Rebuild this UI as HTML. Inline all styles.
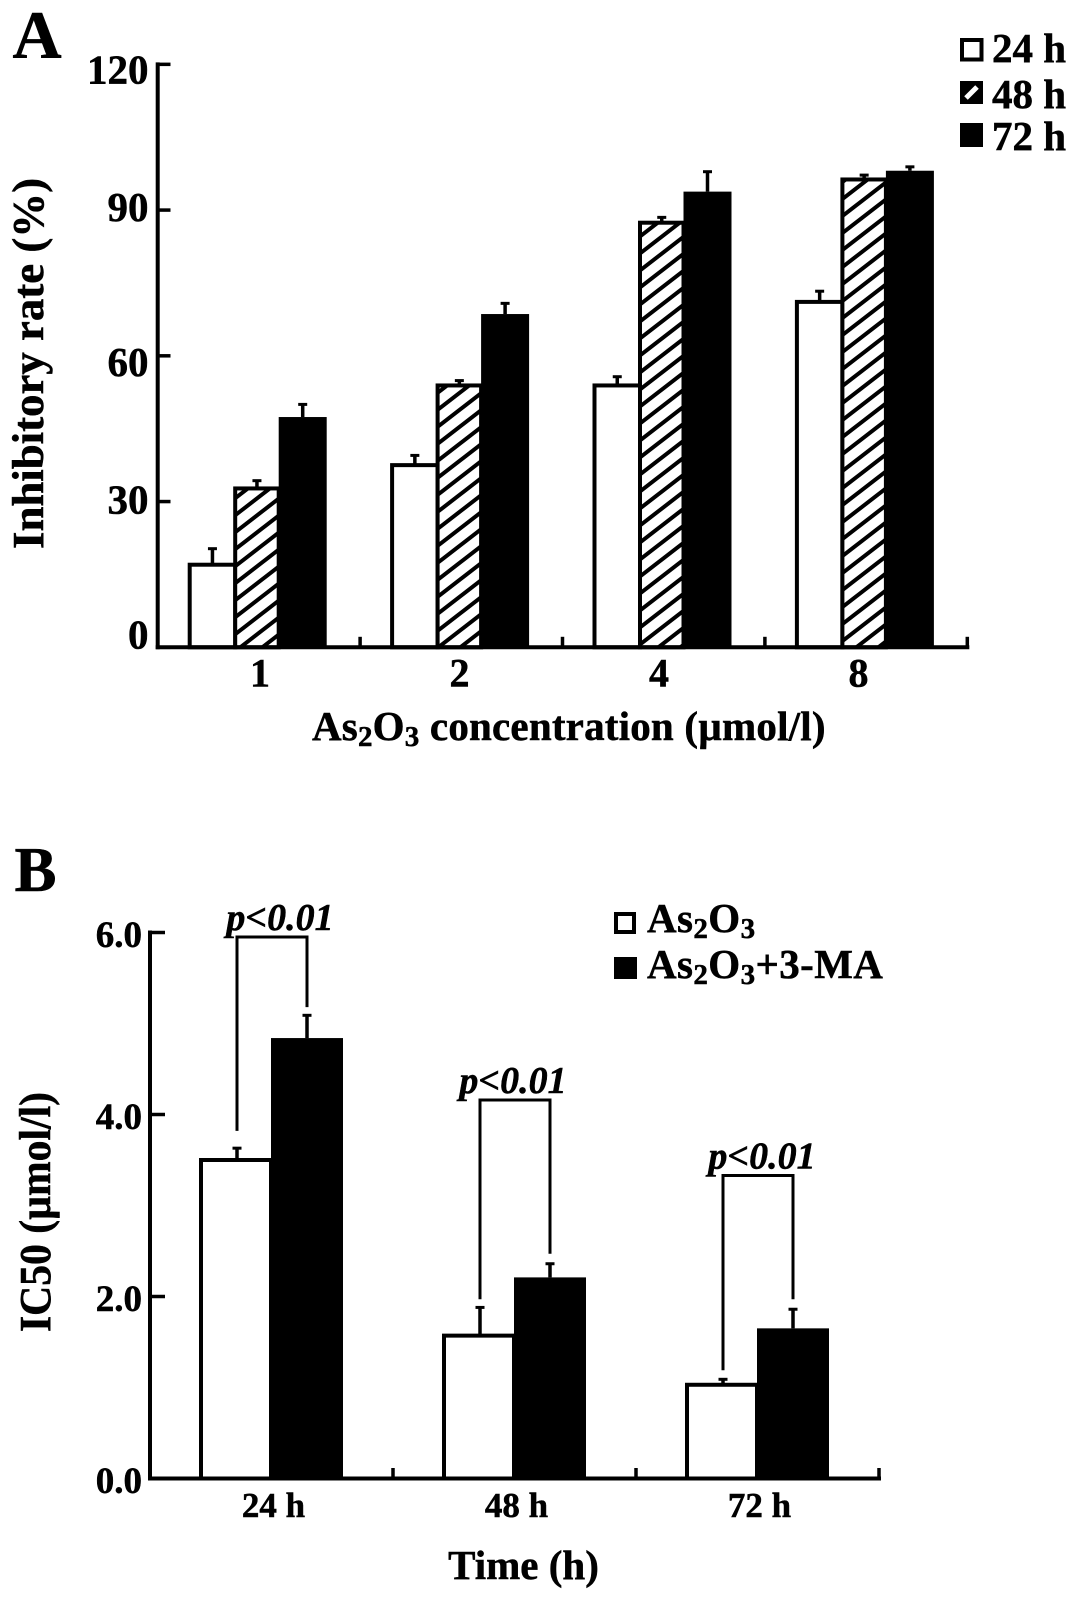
<!DOCTYPE html>
<html lang="en">
<head>
<meta charset="utf-8">
<title>As2O3 inhibitory rate and IC50</title>
<style>
html,body{margin:0;padding:0;background:#fff;}
svg{display:block;}
text{font-family:"Liberation Serif",serif;font-weight:bold;fill:#000;stroke:#000;stroke-width:0.5px;}
</style>
</head>
<body>
<svg id="fig" width="1087" height="1618" viewBox="0 0 1087 1618" xmlns="http://www.w3.org/2000/svg">
<defs>
<pattern id="hatch" patternUnits="userSpaceOnUse" width="22" height="17">
<rect width="22" height="17" fill="#fff"/>
<path d="M-11 25.5L33 -8.5M-11 8.5L11 -8.5M11 25.5L33 8.5" stroke="#000" stroke-width="4" fill="none"/>
</pattern>
</defs>
<text x="12.5" y="58" font-size="68">A</text>
<text x="14.5" y="891" font-size="63">B</text>

<g>
<rect x="962" y="40" width="19.5" height="19.5" fill="#fff" stroke="#000" stroke-width="4"/>
<text x="992" y="62" font-size="41">24 h</text>
<rect x="960" y="81" width="23" height="23" fill="#000"/>
<path d="M966 98L977 87" stroke="#fff" stroke-width="5" fill="none"/>
<text x="992" y="108" font-size="41">48 h</text>
<rect x="960" y="123" width="23" height="24" fill="#000"/>
<text x="992" y="150" font-size="41">72 h</text>
</g>

<g>
<rect x="616" y="914" width="18" height="18" fill="#fff" stroke="#000" stroke-width="4"/>
<text x="647" y="932" font-size="41" letter-spacing="0.4">As<tspan font-size="29" dy="6">2</tspan><tspan dy="-6">O</tspan><tspan font-size="29" dy="6">3</tspan></text>
<rect x="614" y="957" width="23" height="22" fill="#000"/>
<text x="647" y="978" font-size="41" letter-spacing="0.4">As<tspan font-size="29" dy="6">2</tspan><tspan dy="-6">O</tspan><tspan font-size="29" dy="6">3</tspan><tspan dy="-6">+3-MA</tspan></text>
</g>

<text x="312" y="740" font-size="41" letter-spacing="0.2">As<tspan font-size="29" dy="6">2</tspan><tspan dy="-6">O</tspan><tspan font-size="29" dy="6">3</tspan><tspan dy="-6"> concentration (µmol/l)</tspan></text>
<text transform="translate(43,549) rotate(-90)" font-size="44" textLength="371" lengthAdjust="spacingAndGlyphs">Inhibitory rate (%)</text>
<text x="523.5" y="1579" font-size="41" text-anchor="middle">Time (h)</text>
<text transform="translate(50,1332) rotate(-90)" font-size="44" textLength="240" lengthAdjust="spacingAndGlyphs">IC50 (µmol/l)</text>
</svg>

<script>
// Panel A data
const concentrations = ["1", "2", "4", "8"];
const rate24h = [17, 37.5, 53.9, 71.1];
const rate48h = [32.7, 53.9, 87.4, 96.3];
const rate72h = [47.4, 68.6, 93.8, 98.1];
const rate24hErrTop = [20.3, 39.5, 55.7, 73.3];
const rate48hErrTop = [34.3, 54.9, 88.5, 97.2];
const rate72hErrTop = [50, 70.8, 97.9, 98.9];
const rateTicks = [0, 30, 60, 90, 120];

// Panel B data
const times = ["24 h", "48 h", "72 h"];
const icAs2O3 = [3.5, 1.57, 1.03];
const icCombo = [4.84, 2.21, 1.65];
const icAs2O3ErrTop = [3.63, 1.88, 1.09];
const icComboErrTop = [5.09, 2.36, 1.86];
const icTicks = ["0.0", "2.0", "4.0", "6.0"];
const pLabels = ["p<0.01", "p<0.01", "p<0.01"];
const bracketTop = [5.95, 4.16, 3.33];
const bracketLeftEnd = [3.82, 1.97, 1.19];
const bracketRightEnd = [5.18, 2.47, 1.97];

const svg = document.getElementById('fig');
const NS = 'http://www.w3.org/2000/svg';
function mk(tag, attrs, parent) {
  const el = document.createElementNS(NS, tag);
  for (const k in attrs) el.setAttribute(k, attrs[k]);
  (parent || svg).appendChild(el);
  return el;
}
function line(x1, y1, x2, y2, w, parent) {
  return mk('line', {x1, y1, x2, y2, stroke: '#000', 'stroke-width': w}, parent);
}

// ---- Panel A ----
const ay = v => 647.3 - v * 4.858;
const aGroupX = i => 189.7 + i * 202.4;
const aLabelX = i => 260 + i * 199.5;
const aTickX = i => 157.7 + i * 202.4;
const aWidths = [45.5, 43.5, 48];
const aOffsets = [0, 45.5, 89];
const aFills = ['#fff', 'url(#hatch)', '#000'];
const aSeries = [rate24h, rate48h, rate72h];
const aErrs = [rate24hErrTop, rate48hErrTop, rate72hErrTop];
const aSeriesNames = ['24h', '48h', '72h'];
const aLabelNudge = {0: 1, 30: 12, 60: 20, 90: 11, 120: 19};

const gA = mk('g', {});



aSeries.forEach((vals, s) => {
  vals.forEach((v, i) => {
    const x = aGroupX(i) + aOffsets[s];
    const w = aWidths[s];
    const cx = x + w / 2;
    const err = line(cx, ay(v), cx, ay(aErrs[s][i]), 3.5, gA);
    
    
    const cap = line(cx - 4.5, ay(aErrs[s][i]), cx + 4.5, ay(aErrs[s][i]), 3, gA);
    
    
    const bar = mk('rect', {x, y: ay(v), width: w, height: ay(0) - ay(v), fill: aFills[s], stroke: s === 2 ? 'none' : '#000', 'stroke-width': 4}, gA);
    
    
  });
});

const aYAxis = line(157.7, ay(120) - 2, 157.7, ay(0) + 2, 4, gA);


const aXAxis = line(155.7, ay(0), aTickX(4) + 2, ay(0), 4, gA);



rateTicks.forEach(t => {
  const tick = line(157.7, ay(t), 170.5, ay(t), 3.5, gA);
  
  
  const lab = mk('text', {x: 148.5, y: ay(t) + aLabelNudge[t], 'font-size': 41, 'text-anchor': 'end'}, gA);
  lab.textContent = t;
  
  
});
for (let i = 1; i <= concentrations.length; i++) {
  const tick = line(aTickX(i), ay(0), aTickX(i), ay(0) - 10.5, 3.5, gA);
  
  
}
concentrations.forEach((c, i) => {
  const lab = mk('text', {x: aLabelX(i), y: 686.5, 'font-size': 40, 'text-anchor': 'middle'}, gA);
  lab.textContent = c;
  
  
});

// ---- Panel B ----
const by = v => 1478.5 - v * 91;
const bGroupX = i => 201 + i * 243;
const bLabelX = i => 273.5 + i * 243;
const bTickX = i => 150 + i * 243;
const bWhiteW = 70;
const bBlackW = 72;
const bPNudge = [8, -2, 4];

const gB = mk('g', {});



times.forEach((t, i) => {
  const x0 = bGroupX(i);
  const wc = x0 + 36;
  const bc = x0 + bWhiteW + bBlackW / 2;

  const e1 = line(wc, by(icAs2O3[i]), wc, by(icAs2O3ErrTop[i]), 3.5, gB);
  
  
  const c1 = line(wc - 4.5, by(icAs2O3ErrTop[i]), wc + 4.5, by(icAs2O3ErrTop[i]), 3, gB);
  
  
  const e2 = line(bc, by(icCombo[i]), bc, by(icComboErrTop[i]), 3.5, gB);
  
  
  const c2 = line(bc - 4.5, by(icComboErrTop[i]), bc + 4.5, by(icComboErrTop[i]), 3, gB);
  
  

  const b1 = mk('rect', {x: x0, y: by(icAs2O3[i]), width: bWhiteW, height: by(0) - by(icAs2O3[i]), fill: '#fff', stroke: '#000', 'stroke-width': 4}, gB);
  
  
  const b2 = mk('rect', {x: x0 + bWhiteW, y: by(icCombo[i]), width: bBlackW, height: by(0) - by(icCombo[i]), fill: '#000'}, gB);
  
  

  const br = mk('path', {d: 'M' + wc + ' ' + by(bracketLeftEnd[i]) + 'V' + by(bracketTop[i]) + 'H' + bc + 'V' + by(bracketRightEnd[i]), fill: 'none', stroke: '#000', 'stroke-width': 3}, gB);
  
  
  const p = mk('text', {x: (wc + bc) / 2 + bPNudge[i], y: by(bracketTop[i]) - 7, 'font-size': 38, 'font-style': 'italic', 'text-anchor': 'middle'}, gB);
  p.textContent = pLabels[i];
  
  

  const lab = mk('text', {x: bLabelX(i), y: 1517, 'font-size': 35, 'text-anchor': 'middle'}, gB);
  lab.textContent = t;
  
  
});

const bYAxis = line(150, by(6) - 2, 150, by(0) + 2, 4, gB);


const bXAxis = line(148, by(0), bTickX(3) + 2, by(0), 4, gB);



icTicks.forEach(t => {
  const tick = line(150, by(+t), 165, by(+t), 3.5, gB);
  
  
  const lab = mk('text', {x: 142, y: by(+t) + 14.5, 'font-size': 37, 'text-anchor': 'end'}, gB);
  lab.textContent = t;
  
  
});
for (let i = 1; i <= times.length; i++) {
  const tick = line(bTickX(i), by(0), bTickX(i), by(0) - 10.5, 3.5, gB);
  
  
}
</script>
</body>
</html>
